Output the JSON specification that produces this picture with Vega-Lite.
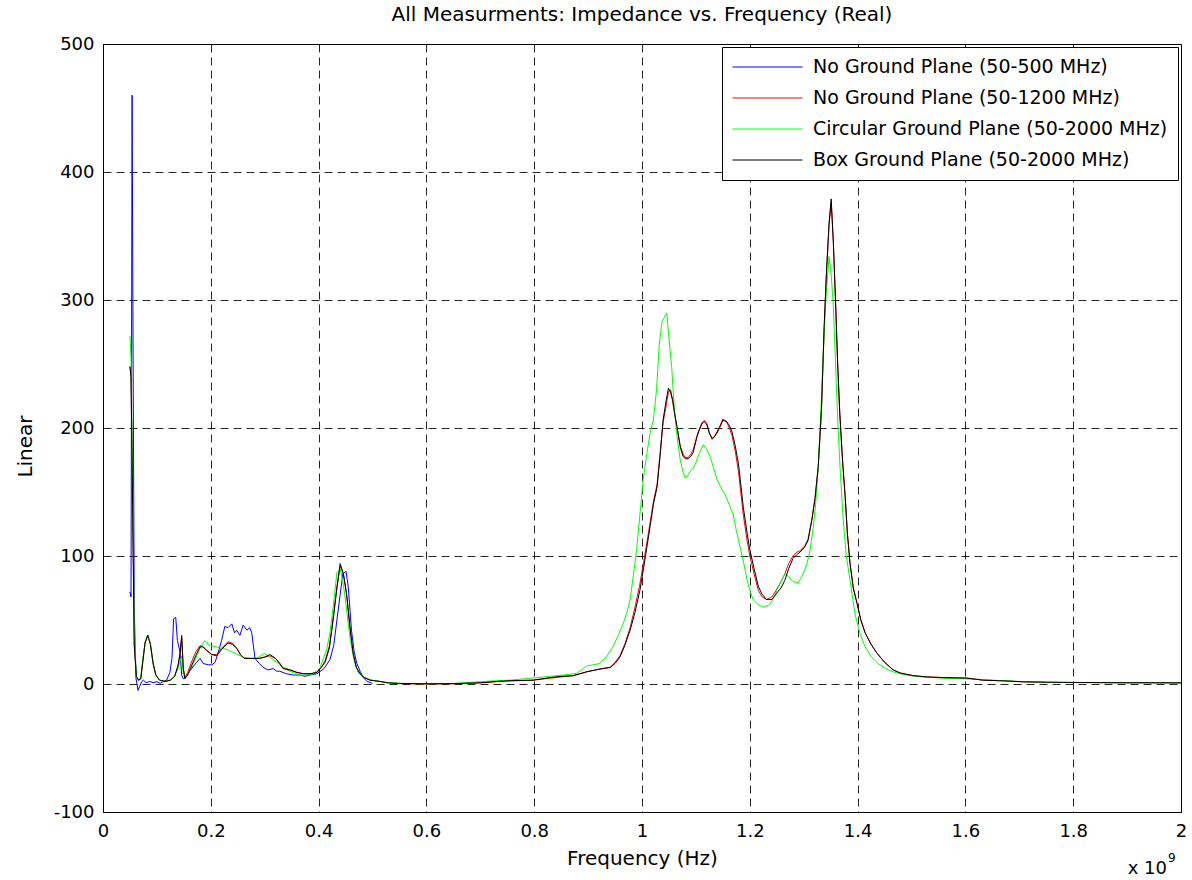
{
  "$schema": "https://vega.github.io/schema/vega-lite/v6.json",
  "width": 1078,
  "height": 768,
  "autosize": {"type": "none"},
  "padding": {"left": 103, "top": 44, "right": 11, "bottom": 68},
  "background": "white",
  "title": {"text": "All Measurments: Impedance vs. Frequency (Real)", "fontSize": 20, "fontWeight": "normal", "font": "DejaVu Sans", "color": "black", "offset": 10, "anchor": "middle"},
  "config": {
    "view": {"stroke": "black", "strokeWidth": 1},
    "font": "DejaVu Sans",
    "axis": {
      "grid": true, "gridColor": "black", "gridDash": [8, 5], "gridWidth": 1, "gridOpacity": 0.85,
      "domain": false, "ticks": false,
      "labelFont": "DejaVu Sans", "labelFontSize": 18, "labelColor": "black",
      "titleFont": "DejaVu Sans", "titleFontSize": 20, "titleFontWeight": "normal", "titleColor": "black"
    },
    "legend": {
      "orient": "top-right", "offset": 3, "title": null,
      "labelFont": "DejaVu Sans", "labelFontSize": 19, "labelColor": "black", "labelLimit": 600,
      "symbolType": "stroke", "symbolSize": 4900, "symbolStrokeWidth": 1, "clipHeight": 20,
      "labelOffset": 10, "padding": 10, "rowPadding": 11,
      "strokeColor": "black", "fillColor": "white", "cornerRadius": 0
    }
  },
  "datasets": {
    "blue": [
      {"s":"b","f":0.050,"z":72},{"s":"b","f":0.052,"z":68},{"s":"b","f":0.054,"z":460},{"s":"b","f":0.056,"z":240},{"s":"b","f":0.058,"z":60},{"s":"b","f":0.061,"z":5},{"s":"b","f":0.065,"z":-5},{"s":"b","f":0.068,"z":-2},{"s":"b","f":0.072,"z":2},{"s":"b","f":0.075,"z":3},{"s":"b","f":0.080,"z":1},{"s":"b","f":0.087,"z":2},{"s":"b","f":0.093,"z":1},{"s":"b","f":0.100,"z":1.8},{"s":"b","f":0.106,"z":0.5},{"s":"b","f":0.112,"z":2},{"s":"b","f":0.118,"z":3},{"s":"b","f":0.124,"z":9},{"s":"b","f":0.128,"z":20},{"s":"b","f":0.131,"z":51},{"s":"b","f":0.135,"z":52},{"s":"b","f":0.138,"z":34},{"s":"b","f":0.143,"z":25},{"s":"b","f":0.146,"z":7},{"s":"b","f":0.149,"z":4},{"s":"b","f":0.155,"z":6},{"s":"b","f":0.161,"z":10},{"s":"b","f":0.168,"z":14},{"s":"b","f":0.174,"z":17},{"s":"b","f":0.180,"z":20},{"s":"b","f":0.186,"z":16},{"s":"b","f":0.195,"z":15},{"s":"b","f":0.202,"z":15},{"s":"b","f":0.208,"z":17},{"s":"b","f":0.214,"z":25},{"s":"b","f":0.220,"z":34},{"s":"b","f":0.226,"z":45},{"s":"b","f":0.232,"z":44},{"s":"b","f":0.239,"z":47},{"s":"b","f":0.244,"z":40},{"s":"b","f":0.248,"z":42},{"s":"b","f":0.254,"z":38},{"s":"b","f":0.260,"z":46},{"s":"b","f":0.267,"z":42},{"s":"b","f":0.272,"z":44},{"s":"b","f":0.276,"z":40},{"s":"b","f":0.282,"z":20},{"s":"b","f":0.290,"z":16},{"s":"b","f":0.297,"z":13},{"s":"b","f":0.306,"z":11},{"s":"b","f":0.316,"z":12},{"s":"b","f":0.322,"z":10},{"s":"b","f":0.328,"z":10},{"s":"b","f":0.340,"z":8},{"s":"b","f":0.353,"z":7},{"s":"b","f":0.365,"z":7},{"s":"b","f":0.375,"z":6},{"s":"b","f":0.384,"z":7},{"s":"b","f":0.397,"z":8},{"s":"b","f":0.410,"z":12},{"s":"b","f":0.421,"z":19},{"s":"b","f":0.428,"z":30},{"s":"b","f":0.434,"z":50},{"s":"b","f":0.440,"z":70},{"s":"b","f":0.445,"z":86},{"s":"b","f":0.451,"z":88},{"s":"b","f":0.455,"z":76},{"s":"b","f":0.461,"z":42},{"s":"b","f":0.466,"z":25},{"s":"b","f":0.471,"z":16},{"s":"b","f":0.477,"z":10},{"s":"b","f":0.483,"z":5},{"s":"b","f":0.490,"z":2},{"s":"b","f":0.497,"z":1},{"s":"b","f":0.500,"z":0.5}
    ],
    "red": [
      {"s":"r","f":0.050,"z":248},{"s":"r","f":0.052,"z":240},{"s":"r","f":0.055,"z":140},{"s":"r","f":0.058,"z":30},{"s":"r","f":0.062,"z":6},{"s":"r","f":0.066,"z":3},{"s":"r","f":0.070,"z":4},{"s":"r","f":0.074,"z":18},{"s":"r","f":0.078,"z":32},{"s":"r","f":0.083,"z":38},{"s":"r","f":0.088,"z":31},{"s":"r","f":0.093,"z":16},{"s":"r","f":0.098,"z":7},{"s":"r","f":0.105,"z":3},{"s":"r","f":0.115,"z":2},{"s":"r","f":0.125,"z":3},{"s":"r","f":0.133,"z":6},{"s":"r","f":0.139,"z":14},{"s":"r","f":0.143,"z":24},{"s":"r","f":0.146,"z":36},{"s":"r","f":0.149,"z":12},{"s":"r","f":0.152,"z":5},{"s":"r","f":0.157,"z":9},{"s":"r","f":0.165,"z":18},{"s":"r","f":0.172,"z":25},{"s":"r","f":0.180,"z":30},{"s":"r","f":0.186,"z":29},{"s":"r","f":0.193,"z":26},{"s":"r","f":0.202,"z":23},{"s":"r","f":0.211,"z":23},{"s":"r","f":0.220,"z":28},{"s":"r","f":0.232,"z":33},{"s":"r","f":0.240,"z":32},{"s":"r","f":0.248,"z":28},{"s":"r","f":0.255,"z":23},{"s":"r","f":0.262,"z":20},{"s":"r","f":0.278,"z":20},{"s":"r","f":0.290,"z":20},{"s":"r","f":0.300,"z":21},{"s":"r","f":0.310,"z":22},{"s":"r","f":0.320,"z":20},{"s":"r","f":0.328,"z":16},{"s":"r","f":0.334,"z":13},{"s":"r","f":0.347,"z":11},{"s":"r","f":0.360,"z":9},{"s":"r","f":0.372,"z":8},{"s":"r","f":0.384,"z":8},{"s":"r","f":0.397,"z":9},{"s":"r","f":0.405,"z":13},{"s":"r","f":0.412,"z":18},{"s":"r","f":0.420,"z":30},{"s":"r","f":0.427,"z":52},{"s":"r","f":0.434,"z":76},{"s":"r","f":0.440,"z":92},{"s":"r","f":0.446,"z":86},{"s":"r","f":0.452,"z":70},{"s":"r","f":0.458,"z":45},{"s":"r","f":0.464,"z":24},{"s":"r","f":0.470,"z":13},{"s":"r","f":0.477,"z":8},{"s":"r","f":0.485,"z":5},{"s":"r","f":0.495,"z":3},{"s":"r","f":0.514,"z":2},{"s":"r","f":0.527,"z":1},{"s":"r","f":0.550,"z":0.3},{"s":"r","f":0.600,"z":0},{"s":"r","f":0.650,"z":0.2},{"s":"r","f":0.700,"z":0.8},{"s":"r","f":0.730,"z":1.8},{"s":"r","f":0.755,"z":2.4},{"s":"r","f":0.798,"z":3},{"s":"r","f":0.829,"z":4.5},{"s":"r","f":0.850,"z":5.5},{"s":"r","f":0.872,"z":6.5},{"s":"r","f":0.885,"z":8},{"s":"r","f":0.898,"z":9.6},{"s":"r","f":0.922,"z":11.7},{"s":"r","f":0.941,"z":13},{"s":"r","f":0.950,"z":17},{"s":"r","f":0.959,"z":22},{"s":"r","f":0.968,"z":31},{"s":"r","f":0.978,"z":44},{"s":"r","f":0.987,"z":60},{"s":"r","f":0.996,"z":78},{"s":"r","f":1.005,"z":100},{"s":"r","f":1.015,"z":126},{"s":"r","f":1.021,"z":142},{"s":"r","f":1.028,"z":156},{"s":"r","f":1.034,"z":182},{"s":"r","f":1.039,"z":204},{"s":"r","f":1.045,"z":218},{"s":"r","f":1.049,"z":228},{"s":"r","f":1.053,"z":230},{"s":"r","f":1.057,"z":220},{"s":"r","f":1.061,"z":210},{"s":"r","f":1.065,"z":200},{"s":"r","f":1.071,"z":186},{"s":"r","f":1.076,"z":180},{"s":"r","f":1.080,"z":177},{"s":"r","f":1.086,"z":177},{"s":"r","f":1.091,"z":180},{"s":"r","f":1.095,"z":183},{"s":"r","f":1.102,"z":194},{"s":"r","f":1.106,"z":199},{"s":"r","f":1.111,"z":204},{"s":"r","f":1.115,"z":206},{"s":"r","f":1.120,"z":204},{"s":"r","f":1.125,"z":196},{"s":"r","f":1.130,"z":191},{"s":"r","f":1.134,"z":193},{"s":"r","f":1.139,"z":197},{"s":"r","f":1.145,"z":202},{"s":"r","f":1.150,"z":207},{"s":"r","f":1.157,"z":205},{"s":"r","f":1.162,"z":200},{"s":"r","f":1.167,"z":194},{"s":"r","f":1.173,"z":182},{"s":"r","f":1.179,"z":166},{"s":"r","f":1.188,"z":132},{"s":"r","f":1.195,"z":112},{"s":"r","f":1.200,"z":100},{"s":"r","f":1.208,"z":86},{"s":"r","f":1.216,"z":73},{"s":"r","f":1.223,"z":68},{"s":"r","f":1.231,"z":66},{"s":"r","f":1.241,"z":68},{"s":"r","f":1.250,"z":74},{"s":"r","f":1.258,"z":80},{"s":"r","f":1.265,"z":86},{"s":"r","f":1.272,"z":94},{"s":"r","f":1.280,"z":100},{"s":"r","f":1.287,"z":103},{"s":"r","f":1.293,"z":104},{"s":"r","f":1.302,"z":108},{"s":"r","f":1.308,"z":113},{"s":"r","f":1.315,"z":128},{"s":"r","f":1.321,"z":145},{"s":"r","f":1.327,"z":170},{"s":"r","f":1.333,"z":214},{"s":"r","f":1.338,"z":278},{"s":"r","f":1.342,"z":318},{"s":"r","f":1.347,"z":358},{"s":"r","f":1.351,"z":376},{"s":"r","f":1.355,"z":345},{"s":"r","f":1.359,"z":300},{"s":"r","f":1.363,"z":250},{"s":"r","f":1.367,"z":211},{"s":"r","f":1.372,"z":175},{"s":"r","f":1.377,"z":146},{"s":"r","f":1.381,"z":118},{"s":"r","f":1.386,"z":94},{"s":"r","f":1.392,"z":75},{"s":"r","f":1.399,"z":63},{"s":"r","f":1.406,"z":50},{"s":"r","f":1.414,"z":40},{"s":"r","f":1.425,"z":31},{"s":"r","f":1.436,"z":24},{"s":"r","f":1.450,"z":17},{"s":"r","f":1.466,"z":11},{"s":"r","f":1.479,"z":8.6},{"s":"r","f":1.503,"z":6.5},{"s":"r","f":1.530,"z":5.5},{"s":"r","f":1.560,"z":5},{"s":"r","f":1.603,"z":4.6},{"s":"r","f":1.633,"z":3},{"s":"r","f":1.670,"z":2.5},{"s":"r","f":1.707,"z":1.7},{"s":"r","f":1.750,"z":1.4},{"s":"r","f":1.800,"z":1.2},{"s":"r","f":1.850,"z":1.1},{"s":"r","f":1.900,"z":1},{"s":"r","f":1.950,"z":1},{"s":"r","f":2.000,"z":0.9}
    ],
    "green": [
      {"s":"g","f":0.050,"z":272},{"s":"g","f":0.052,"z":255},{"s":"g","f":0.055,"z":150},{"s":"g","f":0.058,"z":40},{"s":"g","f":0.062,"z":6},{"s":"g","f":0.066,"z":3},{"s":"g","f":0.070,"z":5},{"s":"g","f":0.074,"z":20},{"s":"g","f":0.078,"z":33},{"s":"g","f":0.083,"z":38},{"s":"g","f":0.088,"z":31},{"s":"g","f":0.093,"z":16},{"s":"g","f":0.098,"z":7},{"s":"g","f":0.105,"z":3},{"s":"g","f":0.115,"z":2},{"s":"g","f":0.125,"z":3},{"s":"g","f":0.133,"z":6},{"s":"g","f":0.139,"z":12},{"s":"g","f":0.143,"z":18},{"s":"g","f":0.146,"z":22},{"s":"g","f":0.149,"z":8},{"s":"g","f":0.155,"z":6},{"s":"g","f":0.163,"z":12},{"s":"g","f":0.172,"z":20},{"s":"g","f":0.180,"z":28},{"s":"g","f":0.189,"z":34},{"s":"g","f":0.195,"z":31},{"s":"g","f":0.199,"z":30},{"s":"g","f":0.210,"z":29},{"s":"g","f":0.230,"z":27},{"s":"g","f":0.245,"z":24},{"s":"g","f":0.260,"z":21},{"s":"g","f":0.272,"z":20},{"s":"g","f":0.285,"z":20},{"s":"g","f":0.300,"z":24},{"s":"g","f":0.316,"z":19},{"s":"g","f":0.328,"z":15},{"s":"g","f":0.341,"z":11},{"s":"g","f":0.353,"z":9},{"s":"g","f":0.365,"z":7},{"s":"g","f":0.378,"z":7},{"s":"g","f":0.390,"z":8},{"s":"g","f":0.402,"z":12},{"s":"g","f":0.415,"z":27},{"s":"g","f":0.421,"z":40},{"s":"g","f":0.427,"z":60},{"s":"g","f":0.434,"z":87},{"s":"g","f":0.440,"z":90},{"s":"g","f":0.445,"z":80},{"s":"g","f":0.449,"z":68},{"s":"g","f":0.458,"z":37},{"s":"g","f":0.465,"z":20},{"s":"g","f":0.473,"z":9},{"s":"g","f":0.485,"z":5},{"s":"g","f":0.500,"z":3},{"s":"g","f":0.520,"z":1.5},{"s":"g","f":0.560,"z":0.4},{"s":"g","f":0.600,"z":0.2},{"s":"g","f":0.644,"z":0.3},{"s":"g","f":0.690,"z":1.5},{"s":"g","f":0.730,"z":2.6},{"s":"g","f":0.755,"z":3},{"s":"g","f":0.805,"z":5},{"s":"g","f":0.830,"z":6},{"s":"g","f":0.854,"z":7},{"s":"g","f":0.879,"z":8.3},{"s":"g","f":0.897,"z":14},{"s":"g","f":0.922,"z":16},{"s":"g","f":0.935,"z":22},{"s":"g","f":0.946,"z":29},{"s":"g","f":0.956,"z":38},{"s":"g","f":0.965,"z":47},{"s":"g","f":0.972,"z":56},{"s":"g","f":0.978,"z":66},{"s":"g","f":0.984,"z":85},{"s":"g","f":0.990,"z":105},{"s":"g","f":0.996,"z":132},{"s":"g","f":1.002,"z":159},{"s":"g","f":1.009,"z":180},{"s":"g","f":1.015,"z":196},{"s":"g","f":1.021,"z":206},{"s":"g","f":1.027,"z":230},{"s":"g","f":1.032,"z":265},{"s":"g","f":1.037,"z":283},{"s":"g","f":1.046,"z":290},{"s":"g","f":1.050,"z":270},{"s":"g","f":1.055,"z":248},{"s":"g","f":1.060,"z":215},{"s":"g","f":1.066,"z":190},{"s":"g","f":1.071,"z":175},{"s":"g","f":1.076,"z":166},{"s":"g","f":1.080,"z":161},{"s":"g","f":1.085,"z":163},{"s":"g","f":1.089,"z":166},{"s":"g","f":1.094,"z":168},{"s":"g","f":1.099,"z":172},{"s":"g","f":1.106,"z":180},{"s":"g","f":1.114,"z":187},{"s":"g","f":1.120,"z":183},{"s":"g","f":1.126,"z":178},{"s":"g","f":1.132,"z":170},{"s":"g","f":1.139,"z":160},{"s":"g","f":1.147,"z":153},{"s":"g","f":1.154,"z":148},{"s":"g","f":1.162,"z":140},{"s":"g","f":1.169,"z":133},{"s":"g","f":1.175,"z":120},{"s":"g","f":1.182,"z":107},{"s":"g","f":1.189,"z":94},{"s":"g","f":1.195,"z":81},{"s":"g","f":1.201,"z":72},{"s":"g","f":1.206,"z":66},{"s":"g","f":1.215,"z":62},{"s":"g","f":1.225,"z":60},{"s":"g","f":1.237,"z":62},{"s":"g","f":1.244,"z":67},{"s":"g","f":1.250,"z":73},{"s":"g","f":1.258,"z":80},{"s":"g","f":1.265,"z":86},{"s":"g","f":1.272,"z":84},{"s":"g","f":1.280,"z":80},{"s":"g","f":1.290,"z":79},{"s":"g","f":1.298,"z":85},{"s":"g","f":1.306,"z":94},{"s":"g","f":1.312,"z":105},{"s":"g","f":1.318,"z":123},{"s":"g","f":1.322,"z":140},{"s":"g","f":1.327,"z":170},{"s":"g","f":1.332,"z":215},{"s":"g","f":1.336,"z":255},{"s":"g","f":1.341,"z":300},{"s":"g","f":1.347,"z":334},{"s":"g","f":1.351,"z":320},{"s":"g","f":1.355,"z":295},{"s":"g","f":1.360,"z":240},{"s":"g","f":1.364,"z":198},{"s":"g","f":1.368,"z":165},{"s":"g","f":1.373,"z":130},{"s":"g","f":1.379,"z":100},{"s":"g","f":1.386,"z":81},{"s":"g","f":1.395,"z":55},{"s":"g","f":1.404,"z":40},{"s":"g","f":1.414,"z":29},{"s":"g","f":1.426,"z":21},{"s":"g","f":1.438,"z":16},{"s":"g","f":1.452,"z":12},{"s":"g","f":1.466,"z":9.5},{"s":"g","f":1.490,"z":7},{"s":"g","f":1.520,"z":5.5},{"s":"g","f":1.560,"z":4.5},{"s":"g","f":1.600,"z":4},{"s":"g","f":1.650,"z":3},{"s":"g","f":1.700,"z":2},{"s":"g","f":1.750,"z":1.3},{"s":"g","f":1.800,"z":1.1},{"s":"g","f":1.900,"z":0.9},{"s":"g","f":2.000,"z":0.8}
    ],
    "black": [
      {"s":"k","f":0.050,"z":248},{"s":"k","f":0.052,"z":240},{"s":"k","f":0.055,"z":140},{"s":"k","f":0.058,"z":30},{"s":"k","f":0.062,"z":6},{"s":"k","f":0.066,"z":3},{"s":"k","f":0.070,"z":4},{"s":"k","f":0.074,"z":18},{"s":"k","f":0.078,"z":32},{"s":"k","f":0.083,"z":38},{"s":"k","f":0.088,"z":31},{"s":"k","f":0.093,"z":16},{"s":"k","f":0.098,"z":7},{"s":"k","f":0.105,"z":3},{"s":"k","f":0.115,"z":2},{"s":"k","f":0.125,"z":3},{"s":"k","f":0.133,"z":6},{"s":"k","f":0.139,"z":14},{"s":"k","f":0.143,"z":24},{"s":"k","f":0.146,"z":38},{"s":"k","f":0.149,"z":12},{"s":"k","f":0.152,"z":4},{"s":"k","f":0.157,"z":7},{"s":"k","f":0.165,"z":15},{"s":"k","f":0.172,"z":22},{"s":"k","f":0.180,"z":29},{"s":"k","f":0.186,"z":29},{"s":"k","f":0.193,"z":26},{"s":"k","f":0.202,"z":23},{"s":"k","f":0.211,"z":22},{"s":"k","f":0.220,"z":27},{"s":"k","f":0.232,"z":32},{"s":"k","f":0.240,"z":31},{"s":"k","f":0.248,"z":28},{"s":"k","f":0.255,"z":23},{"s":"k","f":0.262,"z":20},{"s":"k","f":0.278,"z":20},{"s":"k","f":0.290,"z":20},{"s":"k","f":0.300,"z":21},{"s":"k","f":0.310,"z":23},{"s":"k","f":0.320,"z":20},{"s":"k","f":0.328,"z":16},{"s":"k","f":0.334,"z":12},{"s":"k","f":0.347,"z":11},{"s":"k","f":0.360,"z":9},{"s":"k","f":0.372,"z":8},{"s":"k","f":0.384,"z":8},{"s":"k","f":0.397,"z":9},{"s":"k","f":0.405,"z":13},{"s":"k","f":0.412,"z":17},{"s":"k","f":0.420,"z":28},{"s":"k","f":0.427,"z":50},{"s":"k","f":0.434,"z":75},{"s":"k","f":0.440,"z":94},{"s":"k","f":0.446,"z":86},{"s":"k","f":0.452,"z":70},{"s":"k","f":0.458,"z":45},{"s":"k","f":0.464,"z":24},{"s":"k","f":0.470,"z":13},{"s":"k","f":0.477,"z":8},{"s":"k","f":0.485,"z":5},{"s":"k","f":0.495,"z":3},{"s":"k","f":0.514,"z":2},{"s":"k","f":0.527,"z":1},{"s":"k","f":0.550,"z":0.4},{"s":"k","f":0.600,"z":0.2},{"s":"k","f":0.650,"z":0.3},{"s":"k","f":0.700,"z":1},{"s":"k","f":0.730,"z":2},{"s":"k","f":0.755,"z":2.6},{"s":"k","f":0.798,"z":3},{"s":"k","f":0.829,"z":5},{"s":"k","f":0.850,"z":6},{"s":"k","f":0.872,"z":6.5},{"s":"k","f":0.885,"z":8},{"s":"k","f":0.898,"z":9.6},{"s":"k","f":0.922,"z":11.7},{"s":"k","f":0.941,"z":13},{"s":"k","f":0.950,"z":16},{"s":"k","f":0.959,"z":21},{"s":"k","f":0.968,"z":30},{"s":"k","f":0.978,"z":42},{"s":"k","f":0.987,"z":56},{"s":"k","f":0.996,"z":73},{"s":"k","f":1.005,"z":96},{"s":"k","f":1.015,"z":123},{"s":"k","f":1.021,"z":140},{"s":"k","f":1.028,"z":154},{"s":"k","f":1.034,"z":180},{"s":"k","f":1.039,"z":206},{"s":"k","f":1.045,"z":222},{"s":"k","f":1.049,"z":231},{"s":"k","f":1.053,"z":228},{"s":"k","f":1.057,"z":222},{"s":"k","f":1.061,"z":210},{"s":"k","f":1.065,"z":201},{"s":"k","f":1.071,"z":185},{"s":"k","f":1.076,"z":178},{"s":"k","f":1.080,"z":176},{"s":"k","f":1.086,"z":176},{"s":"k","f":1.091,"z":178},{"s":"k","f":1.095,"z":181},{"s":"k","f":1.102,"z":193},{"s":"k","f":1.106,"z":198},{"s":"k","f":1.111,"z":203},{"s":"k","f":1.115,"z":205},{"s":"k","f":1.120,"z":203},{"s":"k","f":1.125,"z":196},{"s":"k","f":1.130,"z":192},{"s":"k","f":1.134,"z":193},{"s":"k","f":1.139,"z":196},{"s":"k","f":1.145,"z":201},{"s":"k","f":1.150,"z":206},{"s":"k","f":1.157,"z":205},{"s":"k","f":1.162,"z":202},{"s":"k","f":1.167,"z":197},{"s":"k","f":1.173,"z":186},{"s":"k","f":1.179,"z":172},{"s":"k","f":1.188,"z":138},{"s":"k","f":1.195,"z":118},{"s":"k","f":1.200,"z":105},{"s":"k","f":1.208,"z":90},{"s":"k","f":1.216,"z":76},{"s":"k","f":1.223,"z":70},{"s":"k","f":1.231,"z":66},{"s":"k","f":1.241,"z":66},{"s":"k","f":1.250,"z":71},{"s":"k","f":1.258,"z":75},{"s":"k","f":1.265,"z":81},{"s":"k","f":1.272,"z":90},{"s":"k","f":1.280,"z":98},{"s":"k","f":1.287,"z":101},{"s":"k","f":1.293,"z":103},{"s":"k","f":1.302,"z":107},{"s":"k","f":1.308,"z":112},{"s":"k","f":1.315,"z":128},{"s":"k","f":1.321,"z":145},{"s":"k","f":1.327,"z":170},{"s":"k","f":1.333,"z":215},{"s":"k","f":1.338,"z":280},{"s":"k","f":1.342,"z":320},{"s":"k","f":1.347,"z":360},{"s":"k","f":1.351,"z":379},{"s":"k","f":1.355,"z":345},{"s":"k","f":1.359,"z":300},{"s":"k","f":1.363,"z":250},{"s":"k","f":1.367,"z":211},{"s":"k","f":1.372,"z":175},{"s":"k","f":1.377,"z":146},{"s":"k","f":1.381,"z":118},{"s":"k","f":1.386,"z":94},{"s":"k","f":1.392,"z":75},{"s":"k","f":1.399,"z":63},{"s":"k","f":1.406,"z":50},{"s":"k","f":1.414,"z":40},{"s":"k","f":1.425,"z":31},{"s":"k","f":1.436,"z":24},{"s":"k","f":1.450,"z":17},{"s":"k","f":1.466,"z":11},{"s":"k","f":1.479,"z":8.6},{"s":"k","f":1.503,"z":6.5},{"s":"k","f":1.530,"z":5.5},{"s":"k","f":1.560,"z":5},{"s":"k","f":1.603,"z":4.6},{"s":"k","f":1.633,"z":3},{"s":"k","f":1.670,"z":2.5},{"s":"k","f":1.707,"z":1.7},{"s":"k","f":1.750,"z":1.4},{"s":"k","f":1.800,"z":1.2},{"s":"k","f":1.850,"z":1.1},{"s":"k","f":1.900,"z":1},{"s":"k","f":1.950,"z":1},{"s":"k","f":2.000,"z":0.9}
    ],
    "xlabel": [{"t": "x 10"}],
    "xexp": [{"t": "9"}]
  },
  "layer": [
    {"data": {"name": "blue"}, "mark": {"type": "line", "strokeWidth": 1, "clip": true},
     "encoding": {
       "x": {"field": "f", "type": "quantitative",
         "scale": {"domain": [0, 2], "nice": false, "zero": false},
         "axis": {"values": [0, 0.2, 0.4, 0.6, 0.8, 1, 1.2, 1.4, 1.6, 1.8, 2], "format": "~g", "title": "Frequency (Hz)", "labelPadding": 10, "titlePadding": 8, "labelFlush": false}},
       "y": {"field": "z", "type": "quantitative",
         "scale": {"domain": [-100, 500], "nice": false, "zero": false},
         "axis": {"values": [-100, 0, 100, 200, 300, 400, 500], "labelExpr": "datum.value < 0 ? '-' + abs(datum.value) : '' + datum.value", "title": "Linear", "labelPadding": 9, "titlePadding": 18, "titleY": 402}},
       "color": {"field": "s", "type": "nominal",
         "scale": {"domain": ["b", "r", "g", "k"], "range": ["#0000ff", "#ff0000", "#00ff00", "#000000"]},
         "legend": {"labelExpr": "datum.label == 'b' ? 'No Ground Plane (50-500 MHz)' : datum.label == 'r' ? 'No Ground Plane (50-1200 MHz)' : datum.label == 'g' ? 'Circular Ground Plane (50-2000 MHz)' : 'Box Ground Plane (50-2000 MHz)'"}}}},
    {"data": {"name": "red"}, "mark": {"type": "line", "strokeWidth": 1, "clip": true},
     "encoding": {"x": {"field": "f", "type": "quantitative"}, "y": {"field": "z", "type": "quantitative"}, "color": {"field": "s", "type": "nominal"}}},
    {"data": {"name": "green"}, "mark": {"type": "line", "strokeWidth": 1, "clip": true},
     "encoding": {"x": {"field": "f", "type": "quantitative"}, "y": {"field": "z", "type": "quantitative"}, "color": {"field": "s", "type": "nominal"}}},
    {"data": {"name": "black"}, "mark": {"type": "line", "strokeWidth": 1, "clip": true},
     "encoding": {"x": {"field": "f", "type": "quantitative"}, "y": {"field": "z", "type": "quantitative"}, "color": {"field": "s", "type": "nominal"}}},
    {"data": {"name": "xlabel"}, "mark": {"type": "text", "align": "right", "baseline": "alphabetic", "dx": -14, "dy": 62, "fontSize": 18, "font": "DejaVu Sans", "color": "black"},
     "encoding": {"x": {"datum": 2, "type": "quantitative"}, "y": {"datum": -100, "type": "quantitative"}, "text": {"field": "t", "type": "nominal"}}},
    {"data": {"name": "xexp"}, "mark": {"type": "text", "align": "left", "baseline": "alphabetic", "dx": -13, "dy": 50, "fontSize": 12, "font": "DejaVu Sans", "color": "black"},
     "encoding": {"x": {"datum": 2, "type": "quantitative"}, "y": {"datum": -100, "type": "quantitative"}, "text": {"field": "t", "type": "nominal"}}}
  ]
}
